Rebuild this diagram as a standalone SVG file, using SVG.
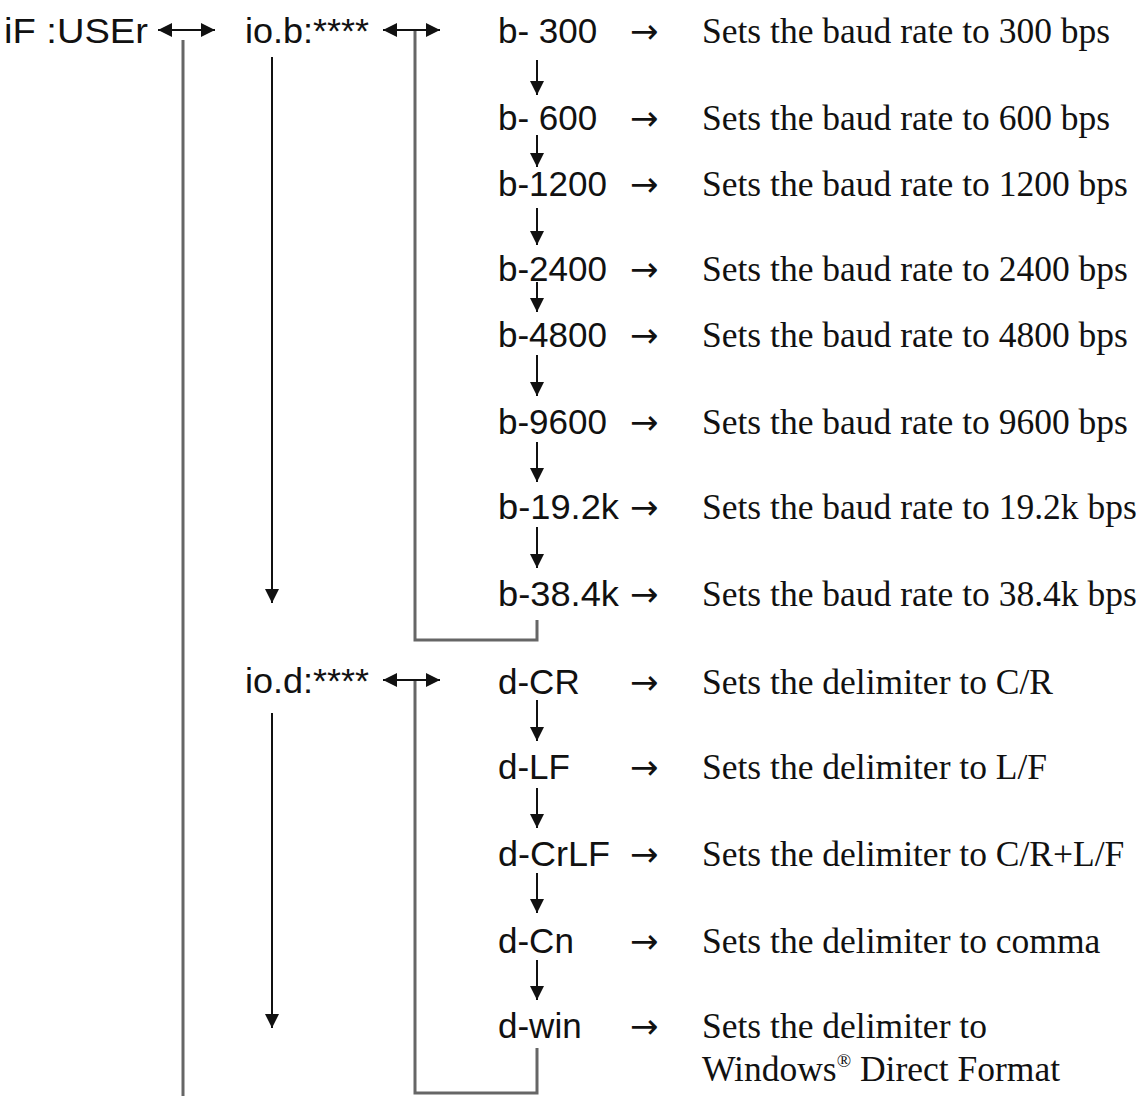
<svg xmlns="http://www.w3.org/2000/svg" width="1137" height="1096" viewBox="0 0 1137 1096">
<style>
.s{font-family:"Liberation Sans",Arial,sans-serif;font-size:35px;fill:#111}
.r{font-family:"Liberation Serif","Times New Roman",serif;font-size:35.5px;fill:#111}
.ar{font-family:"DejaVu Sans",sans-serif;font-size:34px;fill:#111}
.g{stroke:#666;stroke-width:3;fill:none}
.a{stroke:#111;stroke-width:2;fill:none}
</style>
<defs>
<marker id="H" viewBox="0 0 10 10" refX="10" refY="5" markerWidth="14" markerHeight="14" markerUnits="userSpaceOnUse" orient="auto-start-reverse"><path d="M0,0L10,5L0,10z" fill="#111"/></marker>
</defs>
<rect width="1137" height="1096" fill="#fff"/>
<g id="connectors">
<path class="g" d="M183,40V1096"/>
<path class="g" d="M415,30V640H537V620"/>
<path class="g" d="M415,680V1093H537V1048"/>
<path class="a" d="M158,30H215" marker-start="url(#H)" marker-end="url(#H)"/>
<path class="a" d="M383,30H440" marker-start="url(#H)" marker-end="url(#H)"/>
<path class="a" d="M383,680H440" marker-start="url(#H)" marker-end="url(#H)"/>
<path class="a" d="M272,57V603" marker-end="url(#H)"/>
<path class="a" d="M272,713V1028" marker-end="url(#H)"/>
<path class="a" d="M537,60V95" marker-end="url(#H)"/>
<path class="a" d="M537,135V167" marker-end="url(#H)"/>
<path class="a" d="M537,208V245" marker-end="url(#H)"/>
<path class="a" d="M537,282V312" marker-end="url(#H)"/>
<path class="a" d="M537,355V396" marker-end="url(#H)"/>
<path class="a" d="M537,442V482" marker-end="url(#H)"/>
<path class="a" d="M537,527V568" marker-end="url(#H)"/>
<path class="a" d="M537,700V741" marker-end="url(#H)"/>
<path class="a" d="M537,788V828" marker-end="url(#H)"/>
<path class="a" d="M537,873V913" marker-end="url(#H)"/>
<path class="a" d="M537,960V1000" marker-end="url(#H)"/>
</g>
<g id="ifuser"><text class="s" x="4" y="43" textLength="144" lengthAdjust="spacingAndGlyphs">iF :USEr</text></g>
<g id="iob"><text class="s" x="245" y="43" textLength="124" lengthAdjust="spacingAndGlyphs">io.b:****</text></g>
<g id="iod"><text class="s" x="245" y="693" textLength="124" lengthAdjust="spacingAndGlyphs">io.d:****</text></g>
<g id="b300"><text class="s" x="498" y="43">b- 300</text><text class="ar" x="630" y="43">→</text><text class="r" x="702" y="43">Sets the baud rate to 300 bps</text></g>
<g id="b600"><text class="s" x="498" y="130">b- 600</text><text class="ar" x="630" y="130">→</text><text class="r" x="702" y="130">Sets the baud rate to 600 bps</text></g>
<g id="b1200"><text class="s" x="498" y="196">b-1200</text><text class="ar" x="630" y="196">→</text><text class="r" x="702" y="196">Sets the baud rate to 1200 bps</text></g>
<g id="b2400"><text class="s" x="498" y="281">b-2400</text><text class="ar" x="630" y="281">→</text><text class="r" x="702" y="281">Sets the baud rate to 2400 bps</text></g>
<g id="b4800"><text class="s" x="498" y="347">b-4800</text><text class="ar" x="630" y="347">→</text><text class="r" x="702" y="347">Sets the baud rate to 4800 bps</text></g>
<g id="b9600"><text class="s" x="498" y="434">b-9600</text><text class="ar" x="630" y="434">→</text><text class="r" x="702" y="434">Sets the baud rate to 9600 bps</text></g>
<g id="b19"><text class="s" x="498" y="519" textLength="121" lengthAdjust="spacingAndGlyphs">b-19.2k</text><text class="ar" x="630" y="519">→</text><text class="r" x="702" y="519">Sets the baud rate to 19.2k bps</text></g>
<g id="b38"><text class="s" x="498" y="606" textLength="121" lengthAdjust="spacingAndGlyphs">b-38.4k</text><text class="ar" x="630" y="606">→</text><text class="r" x="702" y="606">Sets the baud rate to 38.4k bps</text></g>
<g id="dcr"><text class="s" x="498" y="694">d-CR</text><text class="ar" x="630" y="694">→</text><text class="r" x="702" y="694">Sets the delimiter to C/R</text></g>
<g id="dlf"><text class="s" x="498" y="779">d-LF</text><text class="ar" x="630" y="779">→</text><text class="r" x="702" y="779">Sets the delimiter to L/F</text></g>
<g id="dcrlf"><text class="s" x="498" y="866" textLength="112" lengthAdjust="spacingAndGlyphs">d-CrLF</text><text class="ar" x="630" y="866">→</text><text class="r" x="702" y="866">Sets the delimiter to C/R+L/F</text></g>
<g id="dcn"><text class="s" x="498" y="953">d-Cn</text><text class="ar" x="630" y="953">→</text><text class="r" x="702" y="953">Sets the delimiter to comma</text></g>
<g id="dwin"><text class="s" x="498" y="1038">d-win</text><text class="ar" x="630" y="1038">→</text><text class="r" x="702" y="1038">Sets the delimiter to</text><text class="r" x="702" y="1081">Windows<tspan font-size="19" dy="-14">®</tspan><tspan dy="14"> Direct Format</tspan></text></g>
</svg>
